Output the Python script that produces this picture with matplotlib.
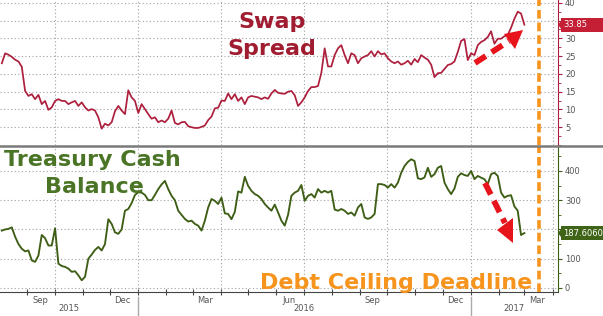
import matplotlib
matplotlib.use('Agg')
import matplotlib.pyplot as plt
import matplotlib.dates as mdates
import matplotlib.ticker as mticker
from matplotlib.lines import Line2D
from matplotlib.patches import Polygon, Rectangle
import pandas as pd

# ---------------- data ----------------
start_date = '2015-08-04'
end_date = '2017-03-01'

swap_spread = [
    23.0, 25.8, 25.4, 24.8, 24.0, 23.5, 22.0, 15.2, 13.8, 14.3,
    12.9, 14.1, 11.5, 12.4, 9.9, 10.6, 12.4, 12.9, 12.4, 12.4,
    11.5, 12.0, 12.4, 11.0, 12.0, 10.6, 9.7, 10.1, 9.7, 7.8,
    4.6, 6.0, 5.5, 6.4, 9.5, 11.0, 9.7, 8.7, 15.4, 13.4,
    12.4, 9.0, 11.5, 10.1, 8.7, 7.4, 7.8, 6.4, 6.9, 6.4,
    7.4, 9.7, 6.2, 5.8, 6.4, 6.5, 5.3, 5.0, 4.8, 4.8,
    5.1, 5.5, 7.0, 8.0, 10.3, 10.5, 12.5, 12.4, 14.5, 12.9,
    14.3, 12.4, 13.4, 11.5, 13.4, 13.8, 13.6, 13.4, 12.9, 13.4,
    13.0, 14.5, 15.5, 14.7, 14.5, 14.4, 15.0, 15.2, 14.0, 11.0,
    12.0, 13.4, 15.2, 16.3, 16.3, 16.6, 20.3, 27.2, 22.1, 22.1,
    25.3, 27.2, 28.1, 25.3, 23.0, 25.8, 25.3, 23.0, 24.4, 24.9,
    25.3, 26.4, 24.9, 26.4, 25.5, 25.8, 24.4, 23.5, 23.0, 23.5,
    22.6, 23.0, 23.7, 22.6, 24.2, 23.3, 25.3, 24.6, 24.0, 22.6,
    19.1, 20.2, 20.3, 21.4, 22.5, 22.8, 23.5, 26.2, 29.3, 29.8,
    23.9, 25.8, 25.3, 28.1, 29.0, 29.5, 30.4, 32.0, 28.5, 29.9,
    29.9, 30.6, 31.0, 33.0, 35.5, 37.5, 37.0, 33.85,
]

cash_balance = [
    196, 200, 202, 207, 175, 150, 134, 125, 128, 94,
    89, 111, 181, 170, 145, 145, 204, 83, 75, 72,
    66, 55, 57, 43, 26, 38, 100, 114, 130, 140,
    128, 150, 235, 219, 190, 185, 200, 264, 270, 290,
    318, 327, 326, 318, 300, 300, 318, 338, 354, 366,
    338, 315, 300, 264, 250, 236, 227, 230, 219, 213,
    196, 230, 275, 304, 298, 287, 309, 255, 253, 235,
    260, 330, 326, 380, 349, 332, 321, 315, 304, 287,
    275, 264, 285, 258, 230, 213, 250, 315, 326, 332,
    352, 298, 315, 321, 309, 338, 326, 332, 326, 332,
    268, 264, 270, 264, 253, 258, 247, 275, 287, 241,
    236, 241, 253, 355, 355, 352, 343, 355, 343, 360,
    394, 417, 431, 440, 434, 375, 372, 378, 411, 380,
    389, 411, 417, 360, 338, 321, 340, 380, 392, 386,
    383, 400, 372, 383, 377, 372, 355, 389, 394, 383,
    326, 309, 315, 317, 279, 264, 181, 187.606,
]

swap_ticks = [5, 10, 15, 20, 25, 30, 35, 40]
cash_ticks = [0, 100, 200, 300, 400]
swap_label = '33.85'
cash_label = '187.6060'
deadline_date = '2017-03-17'
x_start, x_end = '2015-08-02', '2017-04-07'

dates = pd.date_range(start_date, end_date, periods=len(swap_spread))

# ---------------- style ----------------
W, H = 603, 316
RED_LINE = '#ad1f3c'
RED_TXT = '#a01c30'
GREEN_LINE = '#3e5e16'
GREEN_TXT = '#4b7526'
ORANGE = '#f7941d'
ARROW_RED = '#e8141b'
GRID = '#a0a0a0'
TICK_TXT = '#555555'

fig = plt.figure(figsize=(W / 100, H / 100), dpi=100)
fig.patch.set_facecolor('white')


def fx(px):
    return px / W


def fy(py):
    return 1 - py / H


ax1 = fig.add_axes([0, fy(145), fx(558), 145 / H])
ax2 = fig.add_axes([0, fy(292), fx(558), (292 - 147) / H])

ax1.plot(dates, swap_spread, color=RED_LINE, lw=1.25, zorder=3)
ax2.plot(dates, cash_balance, color=GREEN_LINE, lw=1.35, zorder=3)

ax1.set_ylim(0, 40.8)
ax2.set_ylim(-14, 482)

xl = (pd.Timestamp(x_start), pd.Timestamp(x_end))
for ax in (ax1, ax2):
    ax.set_xlim(*xl)
    ax.yaxis.tick_right()
    for s in ('left', 'top', 'bottom'):
        ax.spines[s].set_visible(False)
    ax.tick_params(axis='y', which='both', direction='out', labelsize=6,
                   labelcolor=TICK_TXT, pad=2)
    ax.tick_params(axis='y', which='major', length=3)
    ax.tick_params(axis='y', which='minor', length=2)
    ax.yaxis.grid(True, which='major', linestyle=(0, (1, 2.2)), color=GRID, lw=0.8)
    for d in pd.date_range('2015-10-01', '2017-04-01', freq='QS'):
        ax.axvline(d, linestyle=(0, (1, 2.2)), color=GRID, lw=0.8, zorder=1)
    ax.set_axisbelow(True)

ax1.spines['right'].set_color(RED_LINE)
ax2.spines['right'].set_color(GREEN_LINE)
ax1.tick_params(axis='y', which='both', color=RED_LINE)
ax2.tick_params(axis='y', which='both', color=GREEN_LINE)

ax1.yaxis.set_minor_locator(mticker.MultipleLocator(2.5))
ax2.yaxis.set_minor_locator(mticker.MultipleLocator(50))
ax1.set_yticks(swap_ticks)
ax2.set_yticks(cash_ticks)
# labels hidden behind the last-value boxes (as in the reference)
ax1.set_yticklabels(['' if t == 35 else str(t) for t in swap_ticks])
ax2.set_yticklabels(['' if t == 200 else str(t) for t in cash_ticks])

ax1.tick_params(axis='x', which='both', bottom=False, labelbottom=False)

# bottom date axis
ax2.spines['bottom'].set_visible(True)
ax2.spines['bottom'].set_color('#444444')
ax2.xaxis.set_major_locator(mdates.MonthLocator())
ax2.xaxis.set_major_formatter(mticker.NullFormatter())
ax2.xaxis.set_minor_locator(mdates.MonthLocator(bymonth=(3, 6, 9, 12), bymonthday=15))
ax2.xaxis.set_minor_formatter(mdates.DateFormatter('%b'))
ax2.tick_params(axis='x', which='major', direction='inout', length=4, color='#444444')
ax2.tick_params(axis='x', which='minor', length=0, labelsize=6, labelcolor=TICK_TXT, pad=3)

# year labels and separators
years = [2015, 2016, 2017]
xt = ax2.get_xaxis_transform()
for y in years:
    a = max(pd.Timestamp(f'{y}-01-01'), xl[0])
    b = min(pd.Timestamp(f'{y + 1}-01-01'), xl[1])
    mid = a + (b - a) / 2
    ax2.text(mid, -0.115, str(y), transform=xt, ha='center', va='center',
             fontsize=6, color=TICK_TXT, clip_on=False)
    if y > years[0]:
        ax2.plot([a, a], [-0.035, -0.17], transform=xt, color='#aaaaaa', lw=1,
                 clip_on=False)

# separator line between panels
fig.add_artist(Line2D([0, 1], [fy(145.5), fy(145.5)], transform=fig.transFigure,
                      color='#7a7a7a', lw=1.8))

# debt ceiling deadline line
for ax in (ax1, ax2):
    ax.axvline(pd.Timestamp(deadline_date), color=ORANGE, lw=2.6,
               dashes=(2.4, 1.1), zorder=4)

fig.canvas.draw()


def value_box(ax, val, label, color):
    _, ypix = ax.transData.transform((0, val))
    ypix_top = H - ypix
    h = 14
    x0 = 561
    fig.add_artist(Rectangle((fx(x0), fy(ypix_top + h / 2)), fx(W - x0), h / H,
                             transform=fig.transFigure, facecolor=color,
                             edgecolor='none', zorder=10))
    fig.add_artist(Polygon([(fx(x0), fy(ypix_top - 4)), (fx(x0 - 3), fy(ypix_top)),
                            (fx(x0), fy(ypix_top + 4))], closed=True,
                           transform=fig.transFigure, facecolor=color,
                           edgecolor='none', zorder=10))
    fig.text(fx(x0 + 2), fy(ypix_top), label, color='white', fontsize=6,
             ha='left', va='center', zorder=11)


value_box(ax1, swap_spread[-1], swap_label, '#c41f35')
value_box(ax2, cash_balance[-1], cash_label, '#3f6418')

# titles
fig.text(fx(272), fy(28), 'Swap', color=RED_TXT, fontsize=16, fontweight='bold',
         ha='center', va='baseline')
fig.text(fx(272), fy(55), 'Spread', color=RED_TXT, fontsize=16, fontweight='bold',
         ha='center', va='baseline')
fig.text(fx(4), fy(166), 'Treasury Cash', color=GREEN_TXT, fontsize=16,
         fontweight='bold', ha='left', va='baseline')
fig.text(fx(94), fy(193), 'Balance', color=GREEN_TXT, fontsize=16,
         fontweight='bold', ha='center', va='baseline')
fig.text(fx(396), fy(289), 'Debt Ceiling Deadline', color=ORANGE, fontsize=16,
         fontweight='bold', ha='center', va='baseline', zorder=5)


def dashed_arrow(tail, shaft_end, head):
    fig.add_artist(Line2D([fx(tail[0]), fx(shaft_end[0])],
                          [fy(tail[1]), fy(shaft_end[1])],
                          transform=fig.transFigure, color=ARROW_RED, lw=4.2,
                          dashes=(2.2, 1.2), solid_capstyle='butt',
                          dash_capstyle='butt', zorder=8))
    fig.add_artist(Polygon([(fx(px), fy(py)) for px, py in head], closed=True,
                           transform=fig.transFigure, facecolor=ARROW_RED,
                           edgecolor='none', zorder=8))


dashed_arrow((475, 63), (509, 41), [(523, 30), (504, 34), (515, 49)])
dashed_arrow((485, 183), (505, 223), [(497, 230), (513, 218), (513, 243)])

fig.savefig('out.png', dpi=100, facecolor='white')
